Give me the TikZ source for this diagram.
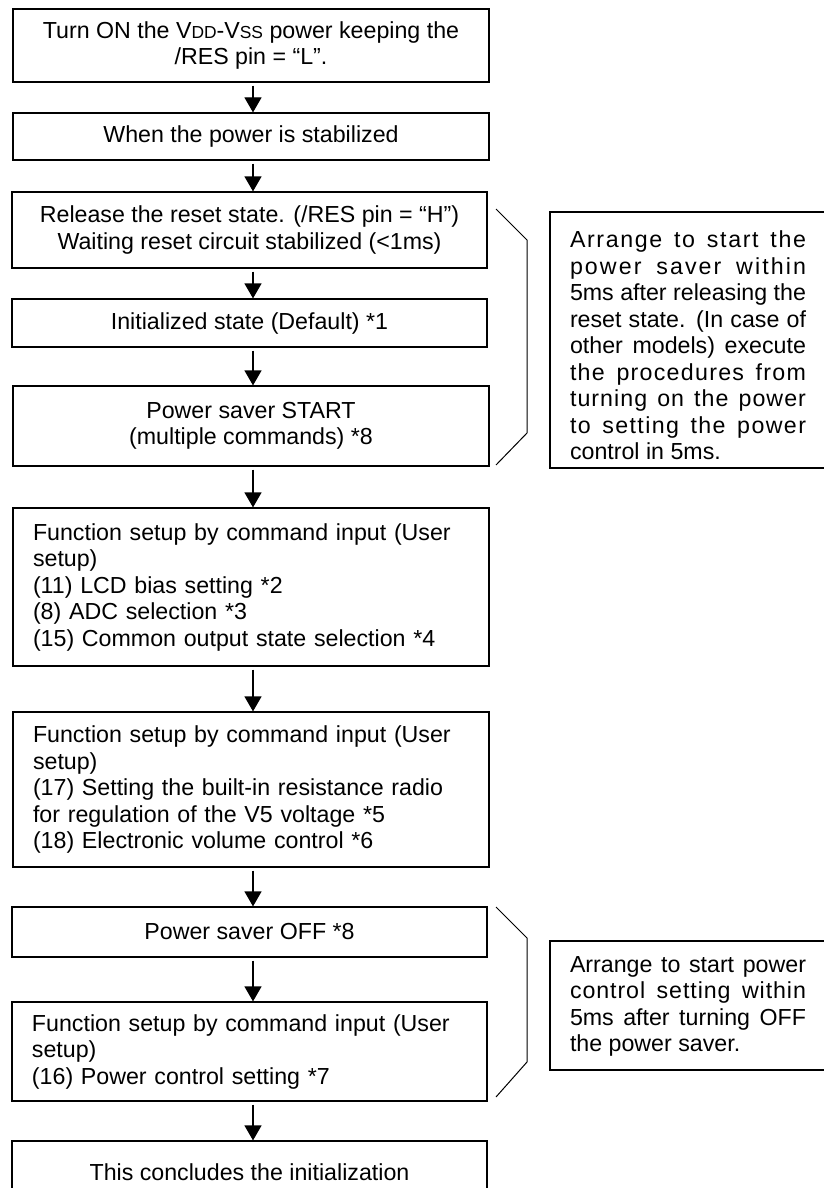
\documentclass[tikz,border=0pt]{standalone}
\usepackage{fontspec}
\setmainfont{Liberation Sans}
\usetikzlibrary{arrows.meta}
\newcommand{\smc}[1]{{\fontsize{8.7}{10}\selectfont #1}}
\newcommand{\jl}[1]{\makebox[118pt][s]{#1}}
\newcommand{\lsl}[2]{\makebox[118pt][s]{\addfontfeature{LetterSpace=#1}#2}}
\begin{document}
\begin{tikzpicture}[x=0.5pt,y=-0.5pt,
  every node/.style={font=\fontsize{11.6}{13.25}\selectfont},
  box/.style={draw, line width=0.6pt, align=center, inner sep=0pt},
  lbox/.style={draw, line width=0.6pt, align=left, inner xsep=10pt, inner ysep=0pt},
  ntext/.style={align=left, inner sep=0pt},
  arr/.style={line width=0.6pt, -{Triangle[length=7.5pt,width=8.5pt]}, shorten <=1.5pt},
  brk/.style={line width=0.5pt},
  frame/.style={line width=0.6pt},
]
\useasboundingbox (0,0) rectangle (824,1188);
\fill[white] (0,0) rectangle (824,1188);
\begin{scope}
\clip (0,0) rectangle (824,1188);

\node[box, minimum width=238pt, minimum height=36.5pt] (b1) at (251,45.5)
  {Turn ON the V\smc{DD}-V\smc{SS} power keeping the\\/RES pin = “L”.};
\node[box, minimum width=238pt, minimum height=23.5pt] (b2) at (251,136.5)
  {When the power is stabilized};
\node[box, minimum width=237.5pt, minimum height=38pt] (b3) at (249.5,230)
  {Release the reset state. (/RES pin = “H”)\\Waiting reset circuit stabilized (<1ms)};
\node[box, minimum width=237.5pt, minimum height=24pt] (b4) at (249.5,323)
  {Initialized state (Default) *1};
\node[box, minimum width=238pt, minimum height=40pt] (b5) at (251,426)
  {Power saver START\\(multiple commands) *8};
\node[lbox, text width=218pt, minimum height=79pt] (b6) at (251,587)
  {Function setup by command input (User\\setup)\\(11) LCD bias setting *2\\(8) ADC selection *3\\(15) Common output state selection *4};
\node[lbox, text width=218pt, minimum height=77.5pt] (b7) at (251,789.5)
  {Function setup by command input (User\\setup)\\(17) Setting the built-in resistance radio\\for regulation of the V5 voltage *5\\(18) Electronic volume control *6};
\node[box, minimum width=237.5pt, minimum height=25pt] (b8) at (249.5,932)
  {Power saver OFF *8};
\node[lbox, text width=217.5pt, minimum height=49.5pt] (b9) at (249.5,1051.5)
  {Function setup by command input (User\\setup)\\(16) Power control setting *7};
\node[box, minimum width=237.5pt, minimum height=31pt] (b10) at (249.5,1172)
  {This concludes the initialization};

\coordinate (ax) at (253,0);
\foreach \a/\b in {b1/b2,b2/b3,b3/b4,b4/b5,b5/b6,b6/b7,b7/b8,b8/b9,b9/b10}
  \draw[arr] (\a.south -| ax) -- (\b.north -| ax);

\draw[brk] (496,209) -- (527,240) -- (527,433) -- (496,465);
\draw[brk] (496,907) -- (527,938) -- (527,1062) -- (496,1097);

\draw[frame] (550,212) rectangle (840,468);
\node[ntext] (n1) at (688,345.5)
  {\lsl{7}{Arrange to start the}\\\lsl{9}{power saver within}\\\jl{5ms after releasing the}\\\jl{reset state. (In case of}\\\jl{other models) execute}\\\lsl{5.5}{the procedures from}\\\lsl{4.5}{turning on the power}\\\lsl{6}{to setting the power}\\control in 5ms.};

\draw[frame] (550,941) rectangle (840,1070);
\node[ntext] (n2) at (688,1006.5)
  {\jl{Arrange to start power}\\\lsl{4}{control setting within}\\\jl{5ms after turning OFF}\\the power saver.};
\end{scope}
\end{tikzpicture}
\end{document}
